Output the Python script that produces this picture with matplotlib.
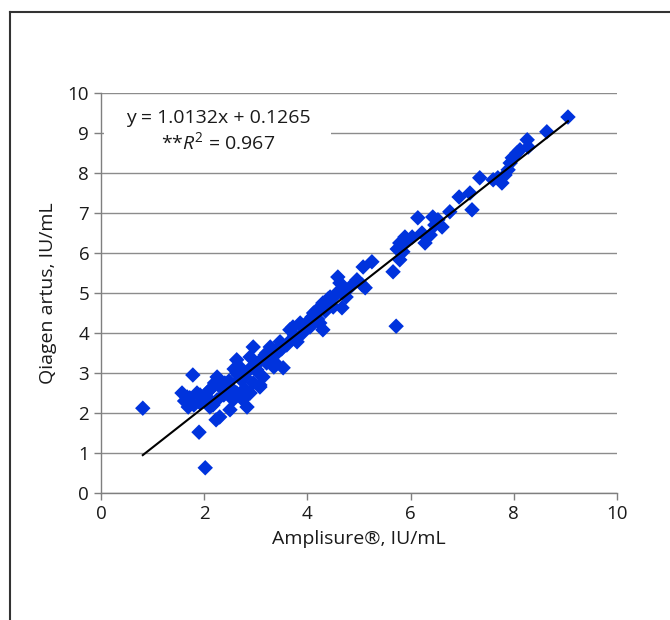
import matplotlib
matplotlib.use("Agg")
import matplotlib.pyplot as plt
from matplotlib.lines import Line2D
import numpy as np

plt.rcParams['font.family'] = ['Open Sans', 'DejaVu Sans']
plt.rcParams['mathtext.fontset'] = 'custom'
plt.rcParams['mathtext.rm'] = 'Open Sans'
plt.rcParams['mathtext.it'] = 'Open Sans:italic'

# Data (Amplisure vs Qiagen artus, IU/mL)
amplisure = [
    0.81, 1.57, 1.67, 1.72, 1.69, 1.78, 1.86, 1.92, 1.92, 1.90, 2.02, 2.11, 2.11, 2.17,
    2.23, 2.25, 2.31, 2.25, 2.11, 2.30, 2.50, 2.50, 2.56, 2.63, 2.75, 2.83, 2.63, 2.69,
    2.63, 2.79, 2.95, 2.89, 3.02, 2.95, 3.08, 3.14, 3.21, 3.28, 3.21, 3.33, 3.41, 3.53,
    3.47, 3.66, 3.72, 3.86, 3.91, 3.80, 2.89, 3.08, 1.62, 1.80, 2.40, 2.45, 2.70, 2.58,
    2.85, 3.00, 3.12, 3.25, 3.38, 3.45, 3.60, 2.05, 2.38, 2.66, 2.72, 2.92, 3.05, 3.18,
    3.70, 3.75, 3.95, 4.05, 4.24, 4.30, 4.19, 4.30, 4.44, 4.57, 4.50, 4.67, 4.59, 4.63,
    4.83, 4.96, 5.06, 5.12, 5.08, 5.25, 4.09, 4.12, 4.35, 4.40, 4.55, 4.75, 4.20, 3.98,
    5.72, 5.66, 5.79, 5.85, 5.79, 5.89, 6.03, 6.14, 6.28, 6.22, 6.38, 6.43, 6.53, 6.61,
    6.47, 6.76, 6.94, 7.19, 7.15, 7.34, 7.60, 7.69, 7.77, 7.83, 7.89, 7.93, 7.97, 8.06,
    8.12, 8.26, 8.28, 8.64, 9.05, 5.93, 5.74, 2.20, 2.48, 2.78, 3.35, 3.50, 4.02, 4.70,
]
qiagen = [
    2.12, 2.50, 2.40, 2.38, 2.15, 2.95, 2.50, 2.25, 2.45, 1.52, 0.63, 2.58, 2.15, 2.20,
    1.83, 2.90, 2.65, 2.33, 2.58, 1.90, 2.08, 2.65, 2.33, 2.50, 2.33, 2.15, 3.33, 3.15,
    3.00, 2.90, 3.65, 3.40, 3.08, 2.75, 2.65, 2.90, 3.25, 3.65, 3.50, 3.40, 3.58, 3.13,
    3.78, 4.08, 4.15, 4.25, 4.00, 3.78, 2.50, 2.70, 2.30, 2.20, 2.75, 2.55, 2.85, 3.10,
    3.05, 3.20, 3.35, 3.30, 3.25, 3.55, 3.70, 2.40, 2.45, 2.95, 3.05, 3.15, 3.00, 3.45,
    3.85, 3.95, 4.10, 4.15, 4.25, 4.08, 4.58, 4.75, 4.90, 5.00, 4.65, 4.63, 5.40, 5.25,
    5.15, 5.33, 5.20, 5.13, 5.65, 5.78, 4.40, 4.50, 4.55, 4.85, 4.95, 4.90, 4.35, 4.20,
    4.17, 5.53, 5.83, 6.03, 6.25, 6.40, 6.40, 6.88, 6.25, 6.50, 6.45, 6.90, 6.83, 6.65,
    6.70, 7.03, 7.40, 7.08, 7.50, 7.88, 7.83, 7.88, 7.75, 7.95, 8.08, 8.25, 8.38, 8.50,
    8.58, 8.83, 8.65, 9.03, 9.40, 6.30, 6.10, 2.75, 2.80, 2.60, 3.15, 3.60, 4.30, 5.05,
]

slope = 1.0132
intercept = 0.1265
eq_text = "y = 1.0132x + 0.1265"
r2_text = r"**$R^{\mathrm{2}}$ = 0.967"
x_label = "Amplisure®, IU/mL"
y_label = "Qiagen artus, IU/mL"
ticks = [0, 2, 4, 6, 8, 10]
yticks = list(range(0, 11))

fig = plt.figure(figsize=(6.7, 6.2), dpi=100)
ax = fig.add_axes([101/670, 127/620, 516/670, 400/620])

ax.set_xlim(0, 10)
ax.set_ylim(0, 10)
ax.set_xticks(ticks)
ax.set_yticks(yticks)
ax.grid(axis='y', color='#8c8c8c', linewidth=1.0)
ax.set_axisbelow(True)
for s in ['top', 'right']:
    ax.spines[s].set_visible(False)
for s in ['left', 'bottom']:
    ax.spines[s].set_color('#7f7f7f')
    ax.spines[s].set_linewidth(1.0)
ax.tick_params(axis='both', direction='out', length=5, width=1.0, color='#7f7f7f',
               labelsize=13.5, labelcolor='#1a1a1a')

ax.scatter(amplisure, qiagen, marker='D', s=62, color='#0033DD', edgecolors='none',
           zorder=3)

xs = np.array([min(amplisure), max(amplisure)])
ax.plot(xs, slope * xs + intercept, color='black', linewidth=1.5, zorder=4)

ax.set_xlabel(x_label, fontsize=14, color='#1a1a1a', labelpad=5)
ax.set_ylabel(y_label, fontsize=14, color='#1a1a1a', labelpad=8)

# white box behind the equation
ax.add_patch(plt.Rectangle((0.05, 8.35), 4.4, 1.5, facecolor='white', edgecolor='none',
                           zorder=2))
ax.text(2.27, 9.38, eq_text, fontsize=14, ha='center', va='center', color='#1a1a1a',
        zorder=5)
ax.text(2.27, 8.78, r2_text, fontsize=14, ha='center', va='center', color='#1a1a1a',
        zorder=5)

# outer frame (left and top edges)
fig.add_artist(Line2D([10/670, 10/670], [0, 1 - 12/620], transform=fig.transFigure,
                      color='#333333', linewidth=1.5))
fig.add_artist(Line2D([10/670, 1], [1 - 12/620, 1 - 12/620], transform=fig.transFigure,
                      color='#333333', linewidth=1.5))

fig.savefig('out.png', dpi=100, facecolor='white')
